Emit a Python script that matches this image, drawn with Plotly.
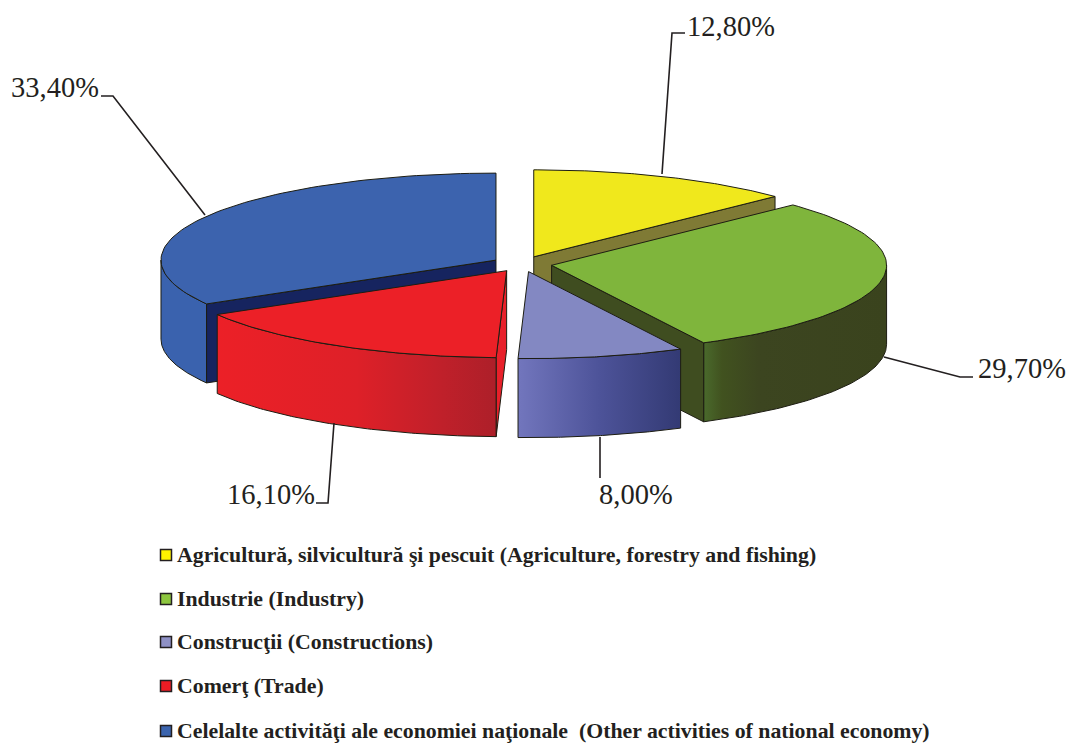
import math
import numpy as np
import plotly.graph_objects as go

categories = ["Agricultură, silvicultură şi pescuit (Agriculture, forestry and fishing)",
              "Industrie (Industry)",
              "Construcţii (Constructions)",
              "Comerţ (Trade)",
              "Celelalte activităţi ale economiei naţionale  (Other activities of national economy)"]
shares = [12.8, 29.7, 8.0, 16.1, 33.4]
value_labels = ["12,80%", "29,70%", "8,00%", "16,10%", "33,40%"]

top_colors = ["#f0e81c", "#7fb53c", "#8388c2", "#ec2027", "#3c63ae"]
swatch_colors = ["#fff200", "#8dc63f", "#8f91c6", "#ed1c24", "#3b64ae"]
side_colors = [
    [[0, "#7f7a35"], [1, "#7f7a35"]],
    [[0, "#4a6a2c"], [0.1, "#41521f"], [0.3, "#3c4520"], [1, "#3a431d"]],
    [[0, "#7276bd"], [0.5, "#4d5399"], [1, "#333a74"]],
    [[0, "#ec2027"], [0.5, "#de2028"], [0.8, "#c0202a"], [1, "#ad1f29"]],
    [[0, "#3a62ae"], [1, "#3a62ae"]],
]
cut_colors = ["#7f7a35", "#3f4d20", "#333a74", "#e8202a", "#16245f"]
INK = "#231f20"

CX, CY, RX, RY, DEPTH, PULL = 522, 264, 335, 87, 79, 30


def apex(mid):
    t = math.radians(mid)
    return CX + PULL * math.sin(t), CY - PULL * RY / RX * math.cos(t)


def arc(ax, ay, a, b, dy=0):
    th = np.radians(np.linspace(a, b, 80))
    return list(ax + RX * np.sin(th)), list(ay - RY * np.cos(th) + dy)


def poly(fig, xs, ys, scale, width=1):
    fig.add_trace(go.Scatter(
        x=xs + xs[:1], y=ys + ys[:1], mode="lines", fill="toself",
        fillgradient=dict(type="horizontal", colorscale=scale),
        line=dict(color="#1d1d12", width=width), hoverinfo="skip", showlegend=False))


def flat(c):
    return [[0, c], [1, c]]


def top(fig, i):
    ax, ay, a, b = W[i]
    xs, ys = arc(ax, ay, a, b)
    poly(fig, [ax] + xs, [ay] + ys, flat(top_colors[i]))


def outer(fig, i):
    ax, ay, a, b = W[i]
    lo, hi = max(a, 90), min(b, 270)
    x1, y1 = arc(ax, ay, lo, hi)
    x2, y2 = arc(ax, ay, lo, hi, DEPTH)
    poly(fig, x1 + x2[::-1], y1 + y2[::-1], side_colors[i])


def cut(fig, i, ang):
    ax, ay, a, b = W[i]
    x1, y1 = arc(ax, ay, ang, ang)
    xs = [ax, x1[0], x1[0], ax]
    ys = [ay, y1[0], y1[0] + DEPTH, ay + DEPTH]
    poly(fig, xs, ys, flat(cut_colors[i]))


W = []
start = 0.0
for s in shares:
    end = start + s * 3.6
    W.append((*apex((start + end) / 2), start, end))
    start = end

fig = go.Figure()
# back-to-front painting
cut(fig, 0, W[0][3]); top(fig, 0)
outer(fig, 4); cut(fig, 4, W[4][2]); top(fig, 4)
outer(fig, 1); cut(fig, 1, W[1][3]); top(fig, 1)
cut(fig, 3, W[3][2]); outer(fig, 3); top(fig, 3)
outer(fig, 2); top(fig, 2)

# legend
legend_y = [555, 599, 642, 686, 731]
fig.add_trace(go.Scatter(
    x=[166] * 5, y=legend_y, mode="markers",
    marker=dict(symbol="square", size=11, color=swatch_colors, line=dict(color=INK, width=1.5)),
    hoverinfo="skip", showlegend=False))

annotations = []
for cat, y in zip(categories, legend_y):
    annotations.append(dict(x=175, y=y, text=cat, showarrow=False, xanchor="left", yanchor="middle",
                            font=dict(family="Liberation Serif", size=21.8, color=INK, weight="bold")))

label_pos = [(685, 26, "left"), (1068, 368, "right"), (636, 494, "center"), (317, 494, "right"), (101, 87, "right")]
for txt, (x, y, anc) in zip(value_labels, label_pos):
    annotations.append(dict(x=x, y=y, text=txt, showarrow=False, xanchor=anc, yanchor="middle",
                            font=dict(family="Liberation Serif", size=28.5, color=INK)))

leaders = ["M662,174 L672,33 L685,33", "M884,357 L960,377 L973,377", "M600,437 L600,478",
           "M334,423 L328,503 L316,503", "M205,215 L113,96 L101,96"]
shapes = [dict(type="path", path=p, line=dict(color=INK, width=1.6), xref="x", yref="y") for p in leaders]

fig.update_layout(
    width=1068, height=743, margin=dict(l=0, r=0, t=0, b=0), autosize=False,
    paper_bgcolor="white", plot_bgcolor="white", showlegend=False,
    xaxis=dict(range=[0, 1068], visible=False, fixedrange=True),
    yaxis=dict(range=[743, 0], visible=False, fixedrange=True),
    annotations=annotations, shapes=shapes)
fig.write_html("out.html", config=dict(displayModeBar=False),
               post_script="document.body.style.margin='0';document.documentElement.style.overflow='hidden';")
